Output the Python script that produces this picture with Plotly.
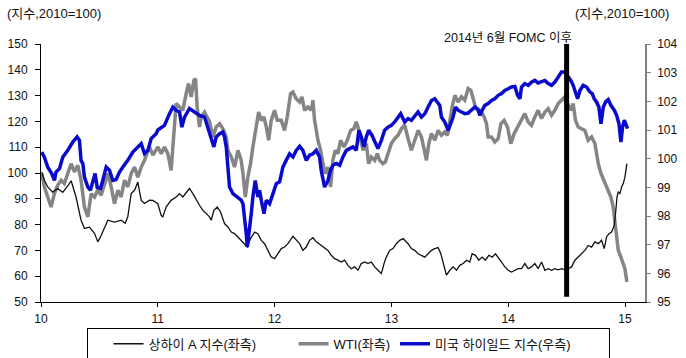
import plotly.graph_objects as go

# ---- data (x in years: 10 = 2010, 15 = 2015) ----
sh_x = [10.006, 10.029, 10.058, 10.100, 10.143, 10.186, 10.229, 10.258, 10.300, 10.343, 10.372, 10.415,
        10.458, 10.486, 10.515, 10.543, 10.572, 10.629, 10.686, 10.721, 10.743, 10.772, 10.801, 10.829,
        10.858, 10.886, 10.929, 10.958, 11.000, 11.029, 11.043, 11.071, 11.114, 11.157, 11.186, 11.214,
        11.243, 11.271, 11.300, 11.329, 11.357, 11.386, 11.414, 11.443, 11.457, 11.480, 11.509, 11.537,
        11.571, 11.600, 11.629, 11.657, 11.686, 11.714, 11.743, 11.766, 11.794, 11.829, 11.857, 11.886,
        11.914, 11.943, 11.971, 12.000, 12.029, 12.057, 12.085, 12.114, 12.157, 12.185, 12.214, 12.242,
        12.271, 12.299, 12.328, 12.357, 12.385, 12.414, 12.457, 12.485, 12.514, 12.542, 12.571, 12.599,
        12.628, 12.657, 12.685, 12.714, 12.742, 12.771, 12.799, 12.828, 12.857, 12.885, 12.914, 12.937,
        12.957, 12.985, 13.014, 13.042, 13.071, 13.100, 13.143, 13.171, 13.200, 13.228, 13.257, 13.286,
        13.314, 13.343, 13.371, 13.400, 13.423, 13.443, 13.471, 13.500, 13.528, 13.557, 13.585, 13.614,
        13.643, 13.671, 13.691, 13.720, 13.748, 13.777, 13.805, 13.834, 13.863, 13.891, 13.914, 13.943,
        13.971, 14.000, 14.028, 14.057, 14.085, 14.114, 14.142, 14.171, 14.199, 14.228, 14.256, 14.285,
        14.314, 14.342, 14.371, 14.399, 14.428, 14.456, 14.485, 14.514, 14.542, 14.571, 14.599, 14.628,
        14.656, 14.685, 14.714, 14.742, 14.771, 14.799, 14.822, 14.842, 14.862, 14.885, 14.908, 14.919,
        14.931, 14.942, 14.956, 14.971, 14.985, 14.999, 15.016]
sh_y = [100.4, 97.2, 94.6, 92.6, 94.0, 92.5, 95.0, 97.0, 90.7, 81.7, 78.5, 79.0,
        76.6, 73.3, 75.8, 79.0, 81.7, 81.0, 81.7, 80.5, 83.0, 92.0, 93.3, 96.5,
        89.4, 88.2, 89.5, 89.4, 88.1, 83.6, 83.0, 86.8, 89.4, 90.7, 92.0, 90.7,
        92.6, 94.0, 92.0, 89.4, 87.5, 85.5, 84.3, 83.0, 81.7, 85.5, 86.8, 84.9,
        80.4, 79.1, 77.1, 76.5, 75.2, 73.9, 72.6, 71.3, 74.6, 77.1, 76.5, 73.9,
        72.6, 70.0, 67.4, 66.8, 69.0, 70.7, 71.3, 72.6, 75.5, 73.9, 72.6, 70.0,
        71.3, 73.9, 74.9, 73.3, 72.4, 71.3, 70.0, 68.1, 66.8, 66.2, 65.5, 66.2,
        64.2, 62.9, 63.6, 62.3, 64.9, 65.5, 64.9, 65.5, 63.6, 62.3, 61.0, 64.9,
        67.5, 70.0, 70.7, 72.6, 73.9, 74.6, 72.6, 70.7, 70.0, 68.7, 68.1, 67.4,
        68.7, 70.0, 70.7, 71.1, 68.7, 64.9, 60.4, 62.3, 63.6, 62.3, 64.2, 64.9,
        66.2, 65.5, 68.7, 68.1, 66.2, 67.4, 66.2, 68.1, 67.4, 68.7, 67.4, 65.5,
        63.6, 62.3, 61.6, 62.3, 62.9, 62.9, 64.9, 62.9, 63.6, 64.9, 62.9, 65.5,
        62.3, 62.9, 62.3, 62.9, 62.5, 62.9, 62.5, 62.9, 63.6, 66.2, 67.4, 68.7,
        70.0, 71.9, 71.3, 73.3, 72.6, 73.9, 70.7, 75.2, 76.5, 77.1, 79.7, 84.3,
        90.7, 92.6, 92.0, 94.6, 95.9, 98.4, 103.6]

wti_x = [10.006, 10.029, 10.058, 10.086, 10.115, 10.143, 10.172, 10.200, 10.229, 10.258, 10.286, 10.315,
         10.343, 10.372, 10.401, 10.429, 10.458, 10.486, 10.515, 10.543, 10.572, 10.601, 10.629, 10.658,
         10.686, 10.715, 10.743, 10.772, 10.801, 10.829, 10.858, 10.886, 10.929, 10.958, 11.001, 11.029,
         11.057, 11.086, 11.114, 11.129, 11.143, 11.157, 11.186, 11.214, 11.243, 11.263, 11.286, 11.309,
         11.323, 11.337, 11.357, 11.371, 11.400, 11.423, 11.443, 11.471, 11.500, 11.529, 11.557, 11.586,
         11.600, 11.629, 11.657, 11.686, 11.714, 11.729, 11.749, 11.771, 11.794, 11.814, 11.843, 11.863,
         11.886, 11.909, 11.929, 11.949, 11.971, 12.000, 12.023, 12.057, 12.085, 12.108, 12.137, 12.157,
         12.185, 12.214, 12.234, 12.257, 12.285, 12.314, 12.328, 12.342, 12.371, 12.394, 12.414, 12.434,
         12.457, 12.479, 12.499, 12.519, 12.542, 12.565, 12.594, 12.622, 12.651, 12.679, 12.699, 12.714,
         12.737, 12.757, 12.785, 12.805, 12.828, 12.857, 12.879, 12.899, 12.928, 12.948, 12.971, 12.999,
         13.028, 13.057, 13.086, 13.114, 13.143, 13.171, 13.200, 13.228, 13.257, 13.286, 13.300, 13.320,
         13.343, 13.371, 13.400, 13.428, 13.457, 13.480, 13.500, 13.520, 13.543, 13.571, 13.600, 13.628,
         13.657, 13.680, 13.700, 13.720, 13.743, 13.771, 13.794, 13.814, 13.828, 13.857, 13.885, 13.914,
         13.937, 13.965, 13.994, 14.022, 14.051, 14.080, 14.114, 14.142, 14.171, 14.199, 14.228, 14.256,
         14.285, 14.314, 14.342, 14.371, 14.399, 14.428, 14.456, 14.485, 14.508, 14.536, 14.556, 14.576,
         14.599, 14.628, 14.656, 14.685, 14.714, 14.742, 14.756, 14.771, 14.794, 14.814, 14.834, 14.856,
         14.879, 14.899, 14.914, 14.928, 14.942, 14.965, 14.985, 14.999, 15.016]
wti_y = [99.8, 94.6, 90.7, 86.8, 92.0, 95.2, 97.2, 95.9, 99.8, 103.6, 100.4, 103.0,
         97.2, 86.8, 83.0, 92.0, 90.7, 93.3, 91.4, 95.9, 99.8, 94.6, 88.1, 93.3,
         90.7, 97.2, 94.6, 99.8, 102.3, 98.4, 102.3, 104.9, 110.1, 106.9, 110.1, 107.5,
         110.1, 107.5, 101.0, 110.1, 120.4, 126.9, 125.6, 124.3, 130.8, 134.7, 129.5, 135.9,
         136.6, 125.6, 117.8, 121.7, 123.6, 121.7, 119.8, 114.0, 117.8, 119.1, 117.2, 114.0,
         108.8, 106.2, 102.3, 108.8, 104.9, 99.8, 90.7, 98.4, 103.6, 110.1, 117.8, 123.6,
         120.4, 121.7, 117.8, 112.7, 120.4, 124.3, 120.4, 120.4, 116.5, 121.7, 130.8, 131.4,
         128.8, 127.5, 129.5, 124.3, 125.6, 124.3, 128.2, 120.4, 112.7, 108.8, 103.6, 99.8,
         102.3, 94.6, 104.9, 108.8, 107.5, 112.7, 110.1, 112.7, 116.5, 117.2, 119.8, 117.8,
         112.7, 108.8, 111.4, 103.6, 106.2, 104.9, 107.5, 104.9, 103.6, 104.3, 107.5, 111.4,
         113.3, 114.6, 117.2, 118.5, 113.3, 108.8, 112.7, 116.5, 114.0, 107.5, 104.9, 111.4,
         115.3, 112.7, 116.5, 114.6, 115.9, 114.6, 120.4, 125.6, 130.1, 127.5, 129.5, 128.2,
         132.7, 132.0, 128.8, 125.6, 124.9, 123.6, 121.7, 119.1, 114.0, 114.0, 112.0, 113.3,
         119.1, 120.4, 117.8, 111.4, 115.3, 117.8, 121.1, 123.0, 119.8, 118.5, 121.7, 124.3,
         121.1, 123.6, 124.9, 122.4, 124.3, 126.9, 128.2, 129.5, 126.9, 124.3, 126.9, 120.4,
         117.8, 117.2, 116.5, 112.7, 114.0, 111.4, 107.5, 103.6, 99.8, 97.8, 95.9, 93.3,
         90.7, 86.8, 81.0, 76.5, 70.0, 67.4, 64.9, 62.9, 57.8]

hy_x = [10.006, 10.029, 10.058, 10.092, 10.115, 10.129, 10.158, 10.186, 10.229, 10.272, 10.309, 10.329,
        10.343, 10.358, 10.372, 10.401, 10.423, 10.443, 10.463, 10.481, 10.509, 10.529, 10.558, 10.586,
        10.615, 10.643, 10.672, 10.701, 10.743, 10.786, 10.829, 10.858, 10.886, 10.915, 10.943, 10.986,
        11.000, 11.057, 11.100, 11.129, 11.157, 11.186, 11.206, 11.229, 11.271, 11.314, 11.357, 11.400,
        11.429, 11.457, 11.480, 11.500, 11.529, 11.557, 11.571, 11.586, 11.600, 11.614, 11.643, 11.686,
        11.714, 11.729, 11.743, 11.757, 11.766, 11.786, 11.800, 11.814, 11.834, 11.857, 11.871, 11.886,
        11.909, 11.929, 11.957, 11.986, 12.014, 12.043, 12.057, 12.071, 12.099, 12.128, 12.157, 12.185,
        12.214, 12.242, 12.271, 12.299, 12.328, 12.357, 12.385, 12.399, 12.428, 12.457, 12.479, 12.499,
        12.528, 12.557, 12.585, 12.614, 12.642, 12.671, 12.699, 12.722, 12.742, 12.765, 12.785, 12.805,
        12.834, 12.862, 12.885, 12.914, 12.942, 12.971, 12.999, 13.028, 13.057, 13.079, 13.114, 13.143,
        13.171, 13.200, 13.228, 13.257, 13.286, 13.314, 13.343, 13.371, 13.394, 13.414, 13.428, 13.457,
        13.486, 13.508, 13.528, 13.548, 13.571, 13.600, 13.628, 13.657, 13.685, 13.714, 13.743, 13.757,
        13.777, 13.800, 13.828, 13.857, 13.885, 13.914, 13.943, 13.971, 14.000, 14.028, 14.057, 14.080,
        14.100, 14.114, 14.142, 14.171, 14.199, 14.228, 14.256, 14.285, 14.314, 14.342, 14.371, 14.399,
        14.428, 14.456, 14.485, 14.508, 14.536, 14.556, 14.576, 14.594, 14.614, 14.642, 14.671, 14.699,
        14.719, 14.736, 14.756, 14.776, 14.794, 14.814, 14.834, 14.856, 14.879, 14.908, 14.928, 14.948,
        14.965, 14.979, 14.994, 15.008, 15.022]
hy_y = [100.23, 100.05, 99.70, 99.48, 99.24, 99.53, 99.65, 100.05, 100.29, 100.58, 100.76, 100.64,
        99.94, 99.83, 99.36, 99.01, 98.90, 99.19, 99.48, 99.00, 98.96, 99.24, 99.71, 99.60,
        99.24, 99.27, 99.53, 99.71, 99.94, 100.23, 100.41, 100.52, 100.18, 100.29, 100.70, 100.87,
        101.00, 101.16, 101.57, 101.80, 101.69, 101.63, 101.10, 101.45, 101.75, 101.63, 101.51, 101.45,
        101.10, 100.76, 100.41, 100.76, 100.87, 100.93, 100.76, 100.41, 99.48, 99.01, 98.78, 98.66,
        98.55, 98.43, 97.96, 97.39, 96.92, 97.50, 98.08, 98.66, 99.24, 98.66, 98.90, 98.55,
        98.08, 98.55, 98.43, 98.78, 99.13, 99.19, 99.48, 99.71, 99.94, 100.17, 100.06, 100.29,
        100.43, 100.29, 99.94, 100.12, 100.17, 100.29, 100.06, 99.59, 99.01, 99.24, 99.59, 99.77,
        99.83, 99.77, 100.06, 100.29, 100.35, 100.41, 100.29, 100.99, 100.76, 100.41, 100.76, 100.99,
        100.81, 100.52, 100.35, 100.64, 100.99, 101.10, 101.16, 101.28, 101.45, 101.57, 101.28, 101.40,
        101.34, 101.51, 101.63, 101.45, 101.57, 101.80, 102.03, 102.09, 101.98, 101.86, 101.45, 101.28,
        100.99, 101.22, 101.45, 101.80, 101.69, 101.63, 101.57, 101.59, 101.69, 101.80, 101.69, 101.51,
        101.69, 101.86, 101.92, 102.03, 102.09, 102.21, 102.27, 102.38, 102.44, 102.50, 102.52, 102.21,
        102.09, 102.50, 102.62, 102.56, 102.67, 102.73, 102.64, 102.67, 102.73, 102.62, 102.56, 102.67,
        102.85, 103.02, 103.02, 102.91, 102.73, 102.56, 102.27, 102.09, 102.38, 102.56, 102.50, 102.33,
        102.27, 102.09, 101.98, 101.80, 101.22, 101.80, 101.98, 102.06, 101.86, 101.69, 101.51, 101.22,
        100.58, 101.10, 101.34, 101.16, 101.05]

x_ticks = [10, 11, 12, 13, 14, 15]
left_ticks = [50, 60, 70, 80, 90, 100, 110, 120, 130, 140, 150]
right_ticks = [95, 96, 97, 98, 99, 100, 101, 102, 103, 104]
fomc_x = 14.5
names = ["상하이 A 지수(좌측)", "WTI(좌측)", "미국 하이일드 지수(우측)"]

NB = "\u00a0"
FONT = "Liberation Sans, Arial, Noto Sans CJK KR, sans-serif"
KFONT = "Liberation Sans, Noto Sans CJK KR, sans-serif"

fig = go.Figure()
fig.add_trace(go.Scatter(x=wti_x, y=wti_y, mode="lines", name=names[1], legendrank=2,
                         line=dict(color="#858585", width=3.5)))
fig.add_trace(go.Scatter(x=hy_x, y=hy_y, mode="lines", name=names[2] + NB * 9, legendrank=3, yaxis="y2",
                         line=dict(color="#0A0ACD", width=3.5)))
fig.add_trace(go.Scatter(x=sh_x, y=sh_y, mode="lines", name=names[0] + NB * 9, legendrank=1,
                         line=dict(color="#111111", width=1.3)))

fig.add_shape(type="line", xref="x", yref="paper", x0=fomc_x, x1=fomc_x, y0=0.02, y1=1.0,
              line=dict(color="black", width=5))

fig.add_annotation(text="2014년 6월 FOMC 이후", xref="paper", yref="paper", x=0.7735, y=1.022,
                   xanchor="center", yanchor="middle", showarrow=False,
                   font=dict(family=KFONT, size=12.5, color="#111"))
fig.add_annotation(text="(지수,2010=100)", xref="paper", yref="paper", x=-0.06, y=1.12,
                   xanchor="left", yanchor="middle", showarrow=False,
                   font=dict(family=KFONT, size=13, color="#111"))
fig.add_annotation(text="(지수,2010=100)", xref="paper", yref="paper", x=1.043, y=1.12,
                   xanchor="right", yanchor="middle", showarrow=False,
                   font=dict(family=KFONT, size=13, color="#111"))

fig.update_layout(
    width=686, height=358,
    margin=dict(l=41.3, r=41.3, t=43.7, b=56.3, pad=0, autoexpand=False),
    paper_bgcolor="white", plot_bgcolor="white",
    font=dict(family=FONT, size=12, color="#111"),
    showlegend=True,
    legend=dict(orientation="h", x=0.0756, y=-0.1, xanchor="left", yanchor="top",
                bordercolor="black", borderwidth=1, font=dict(family=KFONT, size=13),
                title=dict(text=NB * 3, side="left", font=dict(size=13)),
                traceorder="normal", itemwidth=30, tracegroupgap=0),
    xaxis=dict(range=[10, 15.171], tickmode="array", tickvals=x_ticks, automargin=False,
               ticktext=[str(t) for t in x_ticks], showgrid=False, zeroline=False,
               showline=True, linecolor="black", linewidth=1, ticks="outside", ticklen=4,
               tickcolor="black", ticklabelstandoff=2),
    yaxis=dict(range=[50, 150], tickmode="array", tickvals=left_ticks, showgrid=False,
               zeroline=False, showline=True, linecolor="black", linewidth=1, automargin=False,
               ticks="outside", ticklen=5, tickcolor="black", ticklabelstandoff=5),
    yaxis2=dict(range=[95, 104], tickmode="array", tickvals=right_ticks, overlaying="y",
                side="right", showgrid=False, zeroline=False, showline=True, automargin=False,
                linecolor="#808080", linewidth=1.5, ticks="outside", ticklen=4,
                tickcolor="#808080", ticklabelstandoff=4),
)

# remove the browser's default 8px page margin so the figure sits at the window origin
fig.write_html("out.html", config={"displayModeBar": False},
               post_script="document.body.style.margin='0';")
